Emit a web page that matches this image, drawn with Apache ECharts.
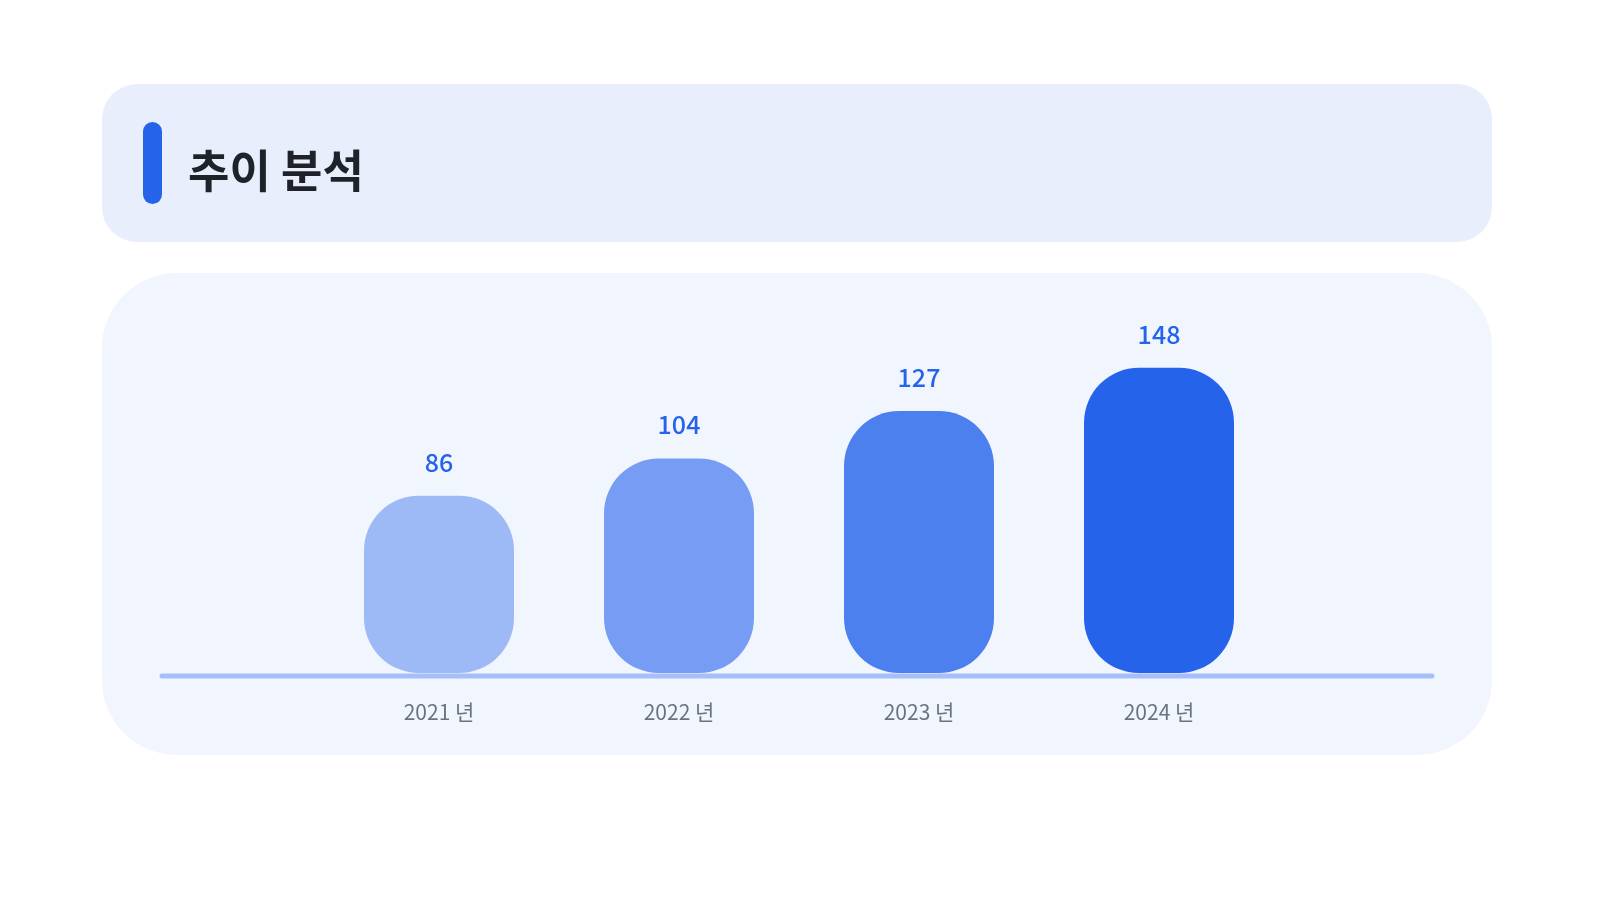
<!DOCTYPE html>
<html>
<head>
<meta charset="utf-8">
<script src="https://cdn.jsdelivr.net/npm/echarts@6/dist/echarts.min.js"></script>
<style>
html,body{margin:0;padding:0;background:#ffffff;}
#chart{width:1598px;height:900px;}
</style>
</head>
<body>
<div id="chart"></div>
<script>
const titleText = '추이 분석';
const categories = ['2021 년', '2022 년', '2023 년', '2024 년'];
const values = [86, 104, 127, 148];
const barColors = ['#9EBAF6', '#769DF3', '#4D80EF', '#2563EB'];

const FONT = '"Noto Sans CJK KR", "Noto Sans", sans-serif';
const chart = echarts.init(document.getElementById('chart'));

chart.setOption({
  backgroundColor: '#ffffff',
  animation: false,
  graphic: [
    { type: 'rect', z: -10, shape: { x: 102, y: 84, width: 1390, height: 158, r: 35 }, style: { fill: '#E8EEFC' } },
    { type: 'rect', z: -9, shape: { x: 143, y: 122, width: 19, height: 82, r: 9.5 }, style: { fill: '#2563EB' } },
    { type: 'text', z: -9, x: 188, y: 171, style: { text: titleText, fill: '#1F2329', font: 'bold 45px ' + FONT, textVerticalAlign: 'middle', textAlign: 'left' } },
    { type: 'rect', z: -10, shape: { x: 102, y: 273, width: 1390, height: 482, r: 75 }, style: { fill: '#F0F5FE' } },
    { type: 'line', z: -8, shape: { x1: 162, y1: 676, x2: 1432, y2: 676 }, style: { stroke: '#A6BFF8', lineWidth: 5, lineCap: 'round' } }
  ],
  grid: { left: 319, right: 319, top: 343, bottom: 227, containLabel: false },
  xAxis: {
    type: 'category',
    data: categories,
    axisLine: { show: false },
    axisTick: { show: false },
    axisLabel: { color: '#6B7280', fontSize: 21, fontWeight: 400, fontFamily: FONT, margin: 29 }
  },
  yAxis: {
    type: 'value',
    min: 0,
    max: 160,
    show: false,
    splitLine: { show: false }
  },
  series: [{
    type: 'bar',
    barWidth: 150,
    data: values.map((v, i) => ({ value: v, itemStyle: { color: barColors[i] } })),
    itemStyle: { borderRadius: 55 },
    label: {
      show: true,
      position: 'top',
      distance: 21,
      color: '#2563EB',
      fontSize: 25,
      fontWeight: 500,
      fontFamily: FONT
    }
  }]
});
</script>
</body>
</html>
